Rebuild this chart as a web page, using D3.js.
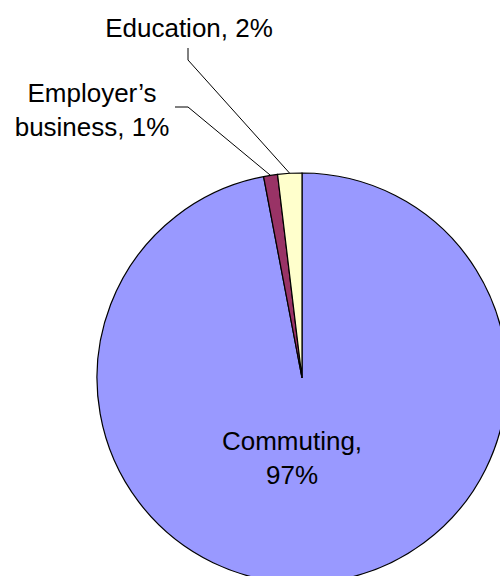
<!DOCTYPE html>
<html>
<head>
<meta charset="utf-8">
<script src="https://cdn.jsdelivr.net/npm/d3@7"></script>
<style>
  body { margin: 0; background: #fff; }
  text { font-family: Arial, "Liberation Sans", sans-serif; font-size: 26px; fill: #000; }
</style>
</head>
<body>
<div id="chart"></div>
<script>
// slices in clockwise order from 12 o'clock
const categories = ["Commuting", "Employer\u2019s business", "Education"];
const shares = [97.0, 1.1, 1.9];
const pctLabels = ["97%", "1%", "2%"];
const colors = ["#9999ff", "#993366", "#ffffcc"];

const w = 500, h = 576;
const cx = 302, cy = 378, r = 205;

const svg = d3.select("#chart").append("svg").attr("width", w).attr("height", h);
const g = svg.append("g").attr("transform", `translate(${cx},${cy})`);

const pie = d3.pie().sort(null).value(d => d)(shares);
const arc = d3.arc().innerRadius(0).outerRadius(r);

g.selectAll("path").data(pie).join("path")
  .attr("d", arc)
  .attr("fill", (d, i) => colors[i])
  .attr("stroke", "#000").attr("stroke-width", 1.2);

// point on the rim at the middle of a slice (for leader lines)
function rim(d) {
  const a = (d.startAngle + d.endAngle) / 2;
  return [cx + r * Math.sin(a), cy - r * Math.cos(a)];
}

// Commuting label sits inside the pie
svg.append("text").attr("text-anchor", "middle").attr("x", 292).attr("y", 450)
  .text(categories[0] + ",");
svg.append("text").attr("text-anchor", "middle").attr("x", 292).attr("y", 484)
  .text(pctLabels[0]);

// Employer's business label + leader
svg.append("text").attr("text-anchor", "middle").attr("x", 92).attr("y", 102)
  .text("Employer\u2019s");
svg.append("text").attr("text-anchor", "middle").attr("x", 92).attr("y", 136)
  .text("business, " + pctLabels[1]);
const pE = rim(pie[1]);
svg.append("polyline")
  .attr("points", `175,107 188,107 ${pE[0]},${pE[1]}`)
  .attr("fill", "none").attr("stroke", "#000").attr("stroke-width", 1);

// Education label + leader
svg.append("text").attr("text-anchor", "middle").attr("x", 189).attr("y", 37)
  .text(categories[2] + ", " + pctLabels[2]);
const pEd = rim(pie[2]);
svg.append("polyline")
  .attr("points", `188,48 188,60 ${pEd[0]},${pEd[1]}`)
  .attr("fill", "none").attr("stroke", "#000").attr("stroke-width", 1);
</script>
</body>
</html>
